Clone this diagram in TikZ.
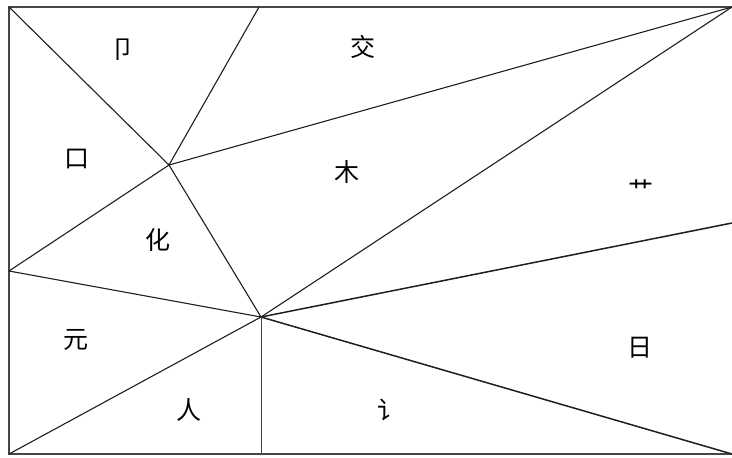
\documentclass[tikz,border=0pt]{standalone}
\usepackage{fontspec}
\newfontfamily\cjk{Noto Sans CJK SC}
\usepackage{xcolor}
\usepackage{tikz}
\usetikzlibrary{calc}
\definecolor{edgeInk}{RGB}{30,30,30}
\definecolor{frameInk}{RGB}{70,70,70}
\tikzset{
  cut/.style={edgeInk,line width=0.55pt},
  heavycut/.style={edgeInk,line width=0.75pt},
  frame/.style={frameInk,line width=0.6pt},
  radical/.style={inner sep=0pt,font=\cjk\fontsize{12.5}{12.5}\selectfont}
}

\begin{document}
\begin{tikzpicture}[x=0.5pt,y=-0.5pt]
  \useasboundingbox (0,0) rectangle (732,457);
  % corners of the board, and where the cuts meet its edges
  \coordinate (tl) at (9,7);
  \coordinate (tr) at (732,7);
  \coordinate (bl) at (9,454);
  \coordinate (br) at (732,454);
  \coordinate (topcut) at (259,7);
  \coordinate (leftcut) at (9,271);
  \coordinate (rightcut) at (732,223);
  \coordinate (botcut) at (261,454);
  % the two inner meeting points
  \coordinate (hubP) at (169,165);
  \coordinate (hubQ) at (261,317);
  % board outline (the right side runs off the picture)
  \draw[frame] (tr) -- (tl) -- (bl) -- (br);
  % cuts
  \foreach \a/\b in {tl/hubP,topcut/hubP,hubP/tr,hubP/leftcut,hubP/hubQ,
                     leftcut/hubQ,hubQ/tr,hubQ/bl}{
    \draw[cut] (\a) -- (\b);
  }
  \foreach \b in {rightcut,br}{
    \draw[heavycut] (hubQ) -- (\b);
  }
  \draw[cut,line width=0.45pt,frameInk] (hubQ) -- (botcut);
  % radicals on the pieces
  \node[radical] (jie)  at (123,50)  {卩};
  \node[radical] (jiao) at (363,47)  {交};
  \node[radical] (kou)  at (77,159)  {口};
  \node[radical] (mu)   at (347,172) {木};
  \node[radical] (hua)  at (158,240) {化};
  \node[radical] (cao)  at (641,190) {艹};
  \node[radical] (yuan) at (76,340)  {元};
  \node[radical] (ren)  at (189,410) {人};
  \node[radical] (yan)  at (390,410) {讠};
  \node[radical] (ri)   at (640,348) {日};
\end{tikzpicture}
\end{document}
